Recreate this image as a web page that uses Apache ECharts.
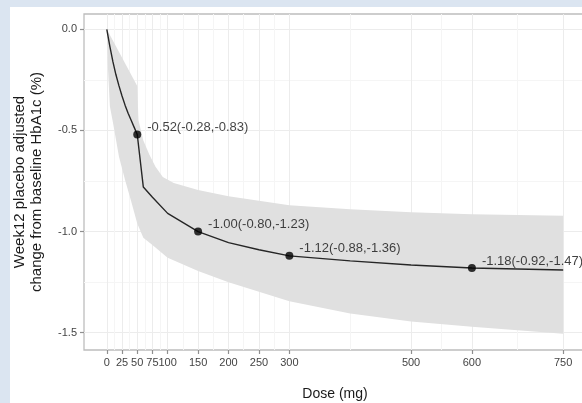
<!DOCTYPE html>
<html><head><meta charset="utf-8">
<script src="https://cdn.jsdelivr.net/npm/echarts@6/dist/echarts.min.js"></script>
<style>
html,body{margin:0;padding:0;width:582px;height:403px;overflow:hidden;background:#dbe5f1;}
#frame{position:absolute;left:10px;top:7px;width:572px;height:396px;background:#fff;}
#chart{position:absolute;left:0;top:0;width:582px;height:403px;}
</style></head><body>
<div id="frame"></div><div id="chart"></div>
<script>
// ---- data ----
const lineDose = [0,5,10,15,20,25,30,35,40,45,50,60,75,100,150,200,250,300,400,500,600,750];
const lineVal  = [0,-0.085,-0.16,-0.225,-0.28,-0.33,-0.375,-0.415,-0.45,-0.485,-0.52,-0.78,-0.83,-0.91,-1.00,-1.055,-1.09,-1.12,-1.145,-1.165,-1.18,-1.19];
const upperDose = [0,50,52,60,70,80,92,110,150,200,300,400,500,600,750];
const upperVal  = [0,-0.28,-0.45,-0.55,-0.62,-0.68,-0.73,-0.76,-0.795,-0.825,-0.87,-0.89,-0.905,-0.915,-0.922];
const lowerDose = [0,2,5,10,20,30,40,50,60,75,100,150,200,300,400,500,600,750];
const lowerVal  = [0,-0.2,-0.38,-0.46,-0.63,-0.745,-0.85,-0.96,-1.03,-1.066,-1.13,-1.195,-1.25,-1.345,-1.405,-1.445,-1.47,-1.505];
const pointDose = [50,150,300,600];
const pointVal  = [-0.52,-1.00,-1.12,-1.18];
const pointLabels = ['-0.52(-0.28,-0.83)','-1.00(-0.80,-1.23)','-1.12(-0.88,-1.36)','-1.18(-0.92,-1.47)'];
const xTicks = [0,25,50,75,100,150,200,250,300,500,600,750];
const xMinor = [12.5,37.5,62.5,87.5,125,175,225,275,400,550,675];
const yTicks = [0,-0.5,-1.0,-1.5];
const yMinor = [-0.25,-0.75,-1.25];

const FONT = "'Liberation Sans', Arial, sans-serif";
const chart = echarts.init(document.getElementById('chart'), null, {renderer:'canvas'});

const upperPts = upperDose.map((d,i)=>[d, upperVal[i]]);
const lowerPts = lowerDose.map((d,i)=>[d, lowerVal[i]]);

const option = {
  backgroundColor: 'transparent',
  animation: false,
  grid: {left:84, top:14, width:502, height:336, show:true, backgroundColor:'#ffffff',
         borderColor:'#bdbdbd', borderWidth:1.3, containLabel:false, outerBoundsMode:'none'},
  xAxis: [
    {type:'value', min:-37.5, max:787.5, gridIndex:0, position:'bottom',
     name:'Dose (mg)', nameLocation:'middle', nameGap:37,
     nameTextStyle:{fontSize:14, color:'#1a1a1a', fontFamily:FONT},
     axisLine:{show:false, onZero:false},
     axisTick:{show:true, inside:false, length:4, lineStyle:{color:'#8f8f8f', width:1.2}, customValues:xTicks},
     axisLabel:{customValues:xTicks, margin:7, fontSize:11, color:'#444444', fontFamily:FONT, hideOverlap:false},
     splitLine:{show:true, lineStyle:{color:'#ececec', width:1}}},
    {type:'value', min:-37.5, max:787.5, gridIndex:0, position:'bottom', offset:0,
     axisLine:{show:false, onZero:false}, axisTick:{show:false, customValues:xMinor},
     axisLabel:{show:false, customValues:xMinor},
     splitLine:{show:true, lineStyle:{color:'#f5f5f5', width:1}}}
  ],
  yAxis: [
    {type:'value', min:-1.5855, max:0.0755, gridIndex:0, position:'left',
     name:'Week12 placebo adjusted\nchange from baseline HbA1c (%)',
     nameLocation:'middle', nameRotate:90, nameGap:39,
     nameTextStyle:{fontSize:15, lineHeight:17, color:'#1a1a1a', fontFamily:FONT, align:'center'},
     axisLine:{show:false, onZero:false},
     axisTick:{show:true, inside:false, length:4, lineStyle:{color:'#8f8f8f', width:1.2}, customValues:yTicks},
     axisLabel:{customValues:yTicks, margin:7, fontSize:11, color:'#444444', fontFamily:FONT,
                formatter:v=>v.toFixed(1)},
     splitLine:{show:true, lineStyle:{color:'#ececec', width:1}}},
    {type:'value', min:-1.5855, max:0.0755, gridIndex:0, position:'left', offset:0,
     axisLine:{show:false, onZero:false}, axisTick:{show:false, customValues:yMinor},
     axisLabel:{show:false, customValues:yMinor},
     splitLine:{show:true, lineStyle:{color:'#f5f5f5', width:1}}}
  ],
  series: [
    {type:'custom', xAxisIndex:0, yAxisIndex:0, silent:true, z:1,
     data:[[0,0]],
     renderItem:(params, api)=>{
       const pts = upperPts.map(p=>api.coord(p)).concat(lowerPts.slice().reverse().map(p=>api.coord(p)));
       return {type:'polygon', shape:{points:pts}, style:{fill:'#e0e0e0', stroke:null}};
     }},
    {type:'line', xAxisIndex:0, yAxisIndex:0, z:2, symbol:'none', smooth:false,
     data: lineDose.map((d,i)=>[d, lineVal[i]]),
     lineStyle:{color:'#262626', width:1.4}},
    {type:'scatter', xAxisIndex:0, yAxisIndex:0, z:3, symbol:'circle', symbolSize:8,
     itemStyle:{color:'#000000'},
     data: pointDose.map((d,i)=>[d, pointVal[i]]),
     label:{show:true, position:'right', distance:6, offset:[0,-7],
            formatter:p=>pointLabels[p.dataIndex],
            fontSize:13, color:'#111111', fontFamily:FONT}}
  ]
};
chart.setOption(option);
</script></body></html>
